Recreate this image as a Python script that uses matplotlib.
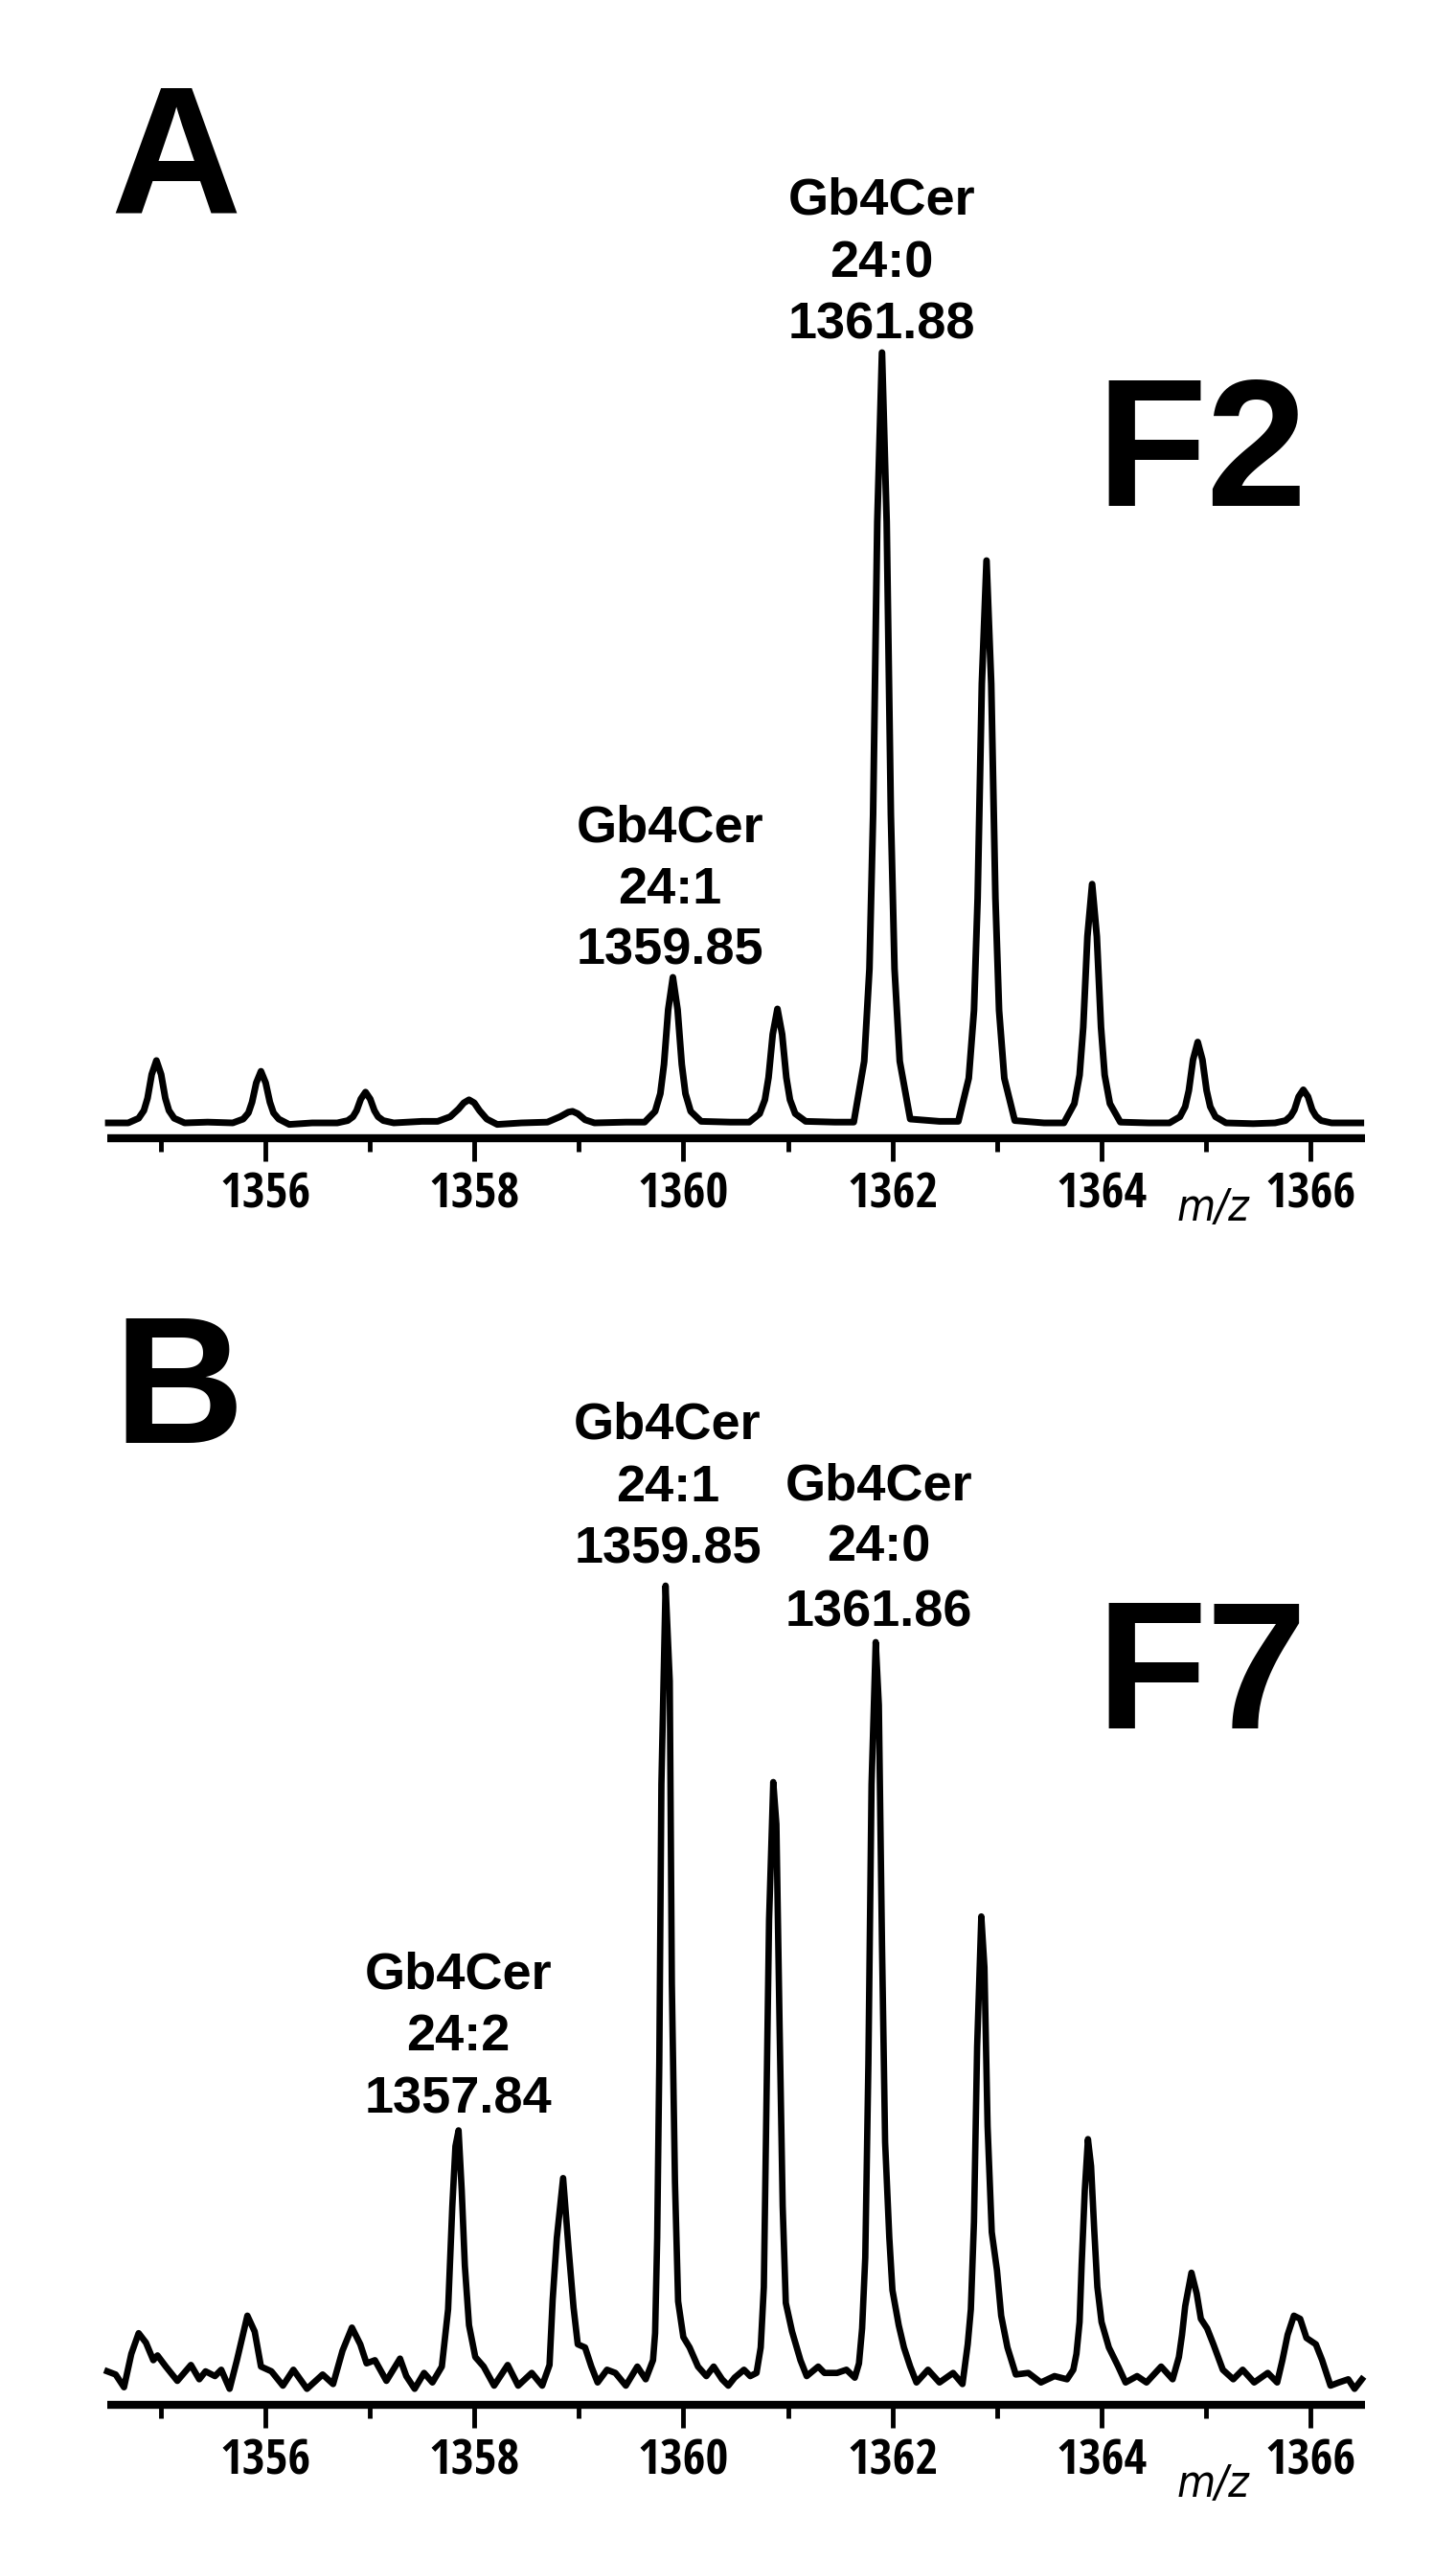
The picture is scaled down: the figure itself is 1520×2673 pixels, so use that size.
import matplotlib
matplotlib.use("Agg")
import matplotlib.pyplot as plt
from matplotlib import font_manager as fm
from matplotlib.ticker import FixedLocator

# ---------------- data ----------------
# Panel A (F2) trace: m/z and relative intensity
mz_a = [1354.50, 1354.69, 1354.79, 1354.84, 1354.875, 1354.915, 1354.96, 1355.005, 1355.045, 1355.08, 1355.13, 1355.23,
        1355.45,
        1355.69, 1355.79, 1355.84, 1355.875, 1355.915, 1355.96, 1356.005, 1356.045, 1356.08, 1356.13, 1356.23,
        1356.45,
        1356.69, 1356.79, 1356.84, 1356.875, 1356.915, 1356.96, 1357.005, 1357.045, 1357.08, 1357.13, 1357.23,
        1357.50,
        1357.65, 1357.77, 1357.85, 1357.90, 1357.95, 1358.00, 1358.05, 1358.12, 1358.22,
        1358.45,
        1358.70, 1358.82, 1358.90, 1358.94, 1358.99, 1359.06, 1359.15,
        1359.45,
        1359.63, 1359.73, 1359.78, 1359.815, 1359.855, 1359.90, 1359.945, 1359.985, 1360.02, 1360.07, 1360.17,
        1360.45,
        1360.63, 1360.73, 1360.78, 1360.815, 1360.855, 1360.90, 1360.945, 1360.985, 1361.02, 1361.07, 1361.17,
        1361.45,
        1361.63, 1361.73, 1361.78, 1361.815, 1361.855, 1361.90, 1361.945, 1361.985, 1362.02, 1362.07, 1362.17,
        1362.45,
        1362.63, 1362.73, 1362.78, 1362.815, 1362.855, 1362.90, 1362.945, 1362.985, 1363.02, 1363.07, 1363.17,
        1363.45,
        1363.64, 1363.74, 1363.79, 1363.825, 1363.865, 1363.91, 1363.955, 1363.995, 1364.03, 1364.08, 1364.18,
        1364.45,
        1364.65, 1364.75, 1364.80, 1364.835, 1364.875, 1364.92, 1364.965, 1365.005, 1365.04, 1365.09, 1365.19,
        1365.45,
        1365.66, 1365.76, 1365.81, 1365.845, 1365.885, 1365.93, 1365.975, 1366.015, 1366.05, 1366.10, 1366.20,
        1366.48]
int_a = [0.0, 0.0, 0.6, 1.6, 3.2, 6.3, 8.1, 6.3, 3.2, 1.6, 0.6, 0.0,
         0.1,
         0.0, 0.5, 1.3, 2.7, 5.2, 6.7, 5.2, 2.7, 1.3, 0.5, -0.2,
         0.0,
         0.0, 0.3, 0.8, 1.6, 3.1, 4.0, 3.1, 1.6, 0.8, 0.3, 0.0,
         0.2,
         0.2, 0.8, 1.8, 2.6, 3.0, 2.6, 1.6, 0.5, -0.2,
         0.0,
         0.1, 0.8, 1.4, 1.5, 1.2, 0.4, 0.0,
         0.1,
         0.1, 1.5, 3.8, 7.6, 14.7, 18.9, 14.7, 7.6, 3.8, 1.5, 0.2,
         0.1,
         0.1, 1.2, 3.0, 5.9, 11.5, 14.8, 11.5, 5.9, 3.0, 1.2, 0.2,
         0.1,
         0.1, 8.0, 20.0, 40.0, 78.0, 100.0, 78.0, 40.0, 20.0, 8.0, 0.5,
         0.2,
         0.2, 5.8, 14.6, 29.2, 57.0, 73.0, 57.0, 29.2, 14.6, 5.8, 0.3,
         0.0,
         0.0, 2.5, 6.2, 12.4, 24.2, 31.0, 24.2, 12.4, 6.2, 2.5, 0.1,
         0.0,
         0.0, 0.8, 2.1, 4.2, 8.2, 10.5, 8.2, 4.2, 2.1, 0.8, 0.0,
         -0.1,
         0.0, 0.3, 0.9, 1.7, 3.4, 4.3, 3.4, 1.7, 0.9, 0.3, 0.0,
         0.0]

# Panel B (F7) trace
mz_b = [1354.49, 1354.57, 1354.65, 1354.72, 1354.79, 1354.86, 1354.93, 1354.97, 1355.05, 1355.16, 1355.29, 1355.37,
        1355.43, 1355.52, 1355.58, 1355.66, 1355.73, 1355.83, 1355.90, 1355.96, 1356.06, 1356.17, 1356.27, 1356.40,
        1356.55, 1356.65, 1356.74, 1356.83, 1356.91, 1356.97, 1357.05, 1357.16, 1357.29, 1357.35, 1357.43, 1357.52,
        1357.60, 1357.69, 1357.75, 1357.79, 1357.82, 1357.85, 1357.88, 1357.91, 1357.95, 1358.01, 1358.09, 1358.19,
        1358.32, 1358.42, 1358.55, 1358.65, 1358.72, 1358.75, 1358.79, 1358.85, 1358.90, 1358.95, 1358.99, 1359.06,
        1359.12, 1359.18, 1359.27, 1359.35, 1359.45, 1359.56, 1359.64, 1359.71, 1359.73, 1359.75, 1359.77, 1359.79,
        1359.83, 1359.87, 1359.89, 1359.92, 1359.95, 1360.00, 1360.06, 1360.14, 1360.22, 1360.29, 1360.37, 1360.43,
        1360.49, 1360.58, 1360.64, 1360.70, 1360.74, 1360.77, 1360.79, 1360.82, 1360.86, 1360.89, 1360.92, 1360.95,
        1360.98, 1361.04, 1361.12, 1361.18, 1361.29, 1361.35, 1361.47, 1361.56, 1361.64, 1361.68, 1361.71, 1361.74,
        1361.77, 1361.80, 1361.84, 1361.87, 1361.90, 1361.93, 1361.97, 1362.00, 1362.06, 1362.11, 1362.17, 1362.23,
        1362.34, 1362.45, 1362.58, 1362.67, 1362.72, 1362.75, 1362.78, 1362.81, 1362.85, 1362.88, 1362.91, 1362.95,
        1363.00, 1363.04, 1363.10, 1363.18, 1363.30, 1363.42, 1363.55, 1363.67, 1363.73, 1363.76, 1363.79, 1363.81,
        1363.84, 1363.87, 1363.90, 1363.93, 1363.96, 1364.00, 1364.07, 1364.16, 1364.23, 1364.34, 1364.43, 1364.57,
        1364.68, 1364.74, 1364.77, 1364.80, 1364.86, 1364.91, 1364.95, 1365.01, 1365.07, 1365.16, 1365.26, 1365.35,
        1365.46, 1365.59, 1365.68, 1365.73, 1365.78, 1365.84, 1365.90, 1365.96, 1366.05, 1366.11, 1366.19, 1366.27,
        1366.36, 1366.42, 1366.49]
int_b = [1.2, 0.8, -0.8, 3.4, 6.0, 4.8, 2.6, 3.2, 1.8, 0.0, 2.0, 0.2,
         1.2, 0.6, 1.4, -1.0, 2.6, 8.2, 6.2, 1.8, 1.2, -0.6, 1.4, -1.0,
         0.8, -0.4, 3.8, 6.7, 4.6, 2.2, 2.6, 0.0, 2.8, 0.6, -1.0, 1.0,
         -0.2, 1.8, 9.0, 21.9, 29.5, 31.5, 24.0, 14.5, 7.0, 3.0, 1.8, -0.6,
         2.0, -0.6, 1.0, -0.6, 2.0, 10.2, 18.0, 25.5, 17.0, 9.2, 4.6, 4.2,
         1.8, -0.2, 1.4, 1.0, -0.6, 1.8, 0.2, 2.6, 6.0, 18.0, 40.0, 75.0,
         100.0, 88.0, 50.0, 25.0, 10.0, 5.5, 4.2, 1.8, 0.6, 1.8, 0.2, -0.6,
         0.4, 1.4, 0.6, 1.0, 4.2, 11.8, 30.0, 58.0, 75.3, 70.0, 45.0, 22.0,
         9.8, 6.2, 2.6, 0.6, 1.8, 1.0, 1.0, 1.4, 0.4, 2.2, 6.6, 15.5,
         40.0, 75.0, 92.9, 85.0, 55.0, 30.0, 18.0, 11.4, 7.0, 4.2, 1.8, -0.2,
         1.4, -0.2, 1.0, -0.4, 4.6, 9.0, 20.0, 42.0, 58.4, 52.0, 32.0, 18.7,
         13.9, 8.2, 4.2, 0.8, 1.0, -0.2, 0.6, 0.2, 1.4, 3.4, 7.4, 14.7,
         24.0, 30.4, 27.0, 19.0, 11.8, 7.4, 4.2, 1.8, -0.2, 0.6, -0.2, 1.8,
         0.2, 3.0, 5.8, 9.4, 13.6, 11.0, 7.8, 6.6, 4.6, 1.4, 0.2, 1.4,
         -0.2, 1.0, -0.2, 2.6, 5.8, 8.2, 7.8, 5.4, 4.6, 2.6, -0.6, -0.2,
         0.2, -1.0, 0.2]

major_ticks = [1356, 1358, 1360, 1362, 1364, 1366]
minor_ticks = [1355, 1357, 1359, 1361, 1363, 1365]

# annotations: (x in m/z, lines)
ann_a = [(1359.87, ["Gb4Cer", "24:1", "1359.85"]),
         (1361.90, ["Gb4Cer", "24:0", "1361.88"])]
ann_b = [(1357.85, ["Gb4Cer", "24:2", "1357.84"]),
         (1359.85, ["Gb4Cer", "24:1", "1359.85"]),
         (1361.87, ["Gb4Cer", "24:0", "1361.86"])]

# ---------------- fonts ----------------
def pick_narrow(bold=True, italic=False):
    want_w = 700 if bold else 400
    cands = []
    for f in fm.fontManager.ttflist:
        fn = f.fname.lower()
        nm = f.name.lower()
        is_narrow = ("narrow" in nm or "narrow" in fn or "condensed" in fn or "condensed" in nm
                     or str(f.stretch).lower() in ("condensed", "semi-condensed"))
        if not is_narrow or "semicondensed" in fn or "extracondensed" in fn:
            continue
        w = f.weight if isinstance(f.weight, int) else (700 if "bold" in str(f.weight) else 400)
        if abs(w - want_w) > 50:
            continue
        if (f.style != "normal") != italic:
            continue
        rank = 0 if "liberation" in nm else (1 if "noto sans" in nm else (2 if "open" in nm else 3))
        cands.append((rank, f.fname))
    if cands:
        cands.sort()
        return cands[0][1]
    return None


narrow_bold = pick_narrow(True, False)
narrow_ital = pick_narrow(False, True)


def tick_font(size):
    if narrow_bold:
        return fm.FontProperties(fname=narrow_bold, size=size)
    return fm.FontProperties(family="Liberation Sans", weight="bold", size=size)


def mz_font(size):
    if narrow_ital:
        return fm.FontProperties(fname=narrow_ital, size=size)
    return fm.FontProperties(family="Liberation Sans", style="italic", size=size)


BOLD = "Liberation Sans"

W, H = 1520, 2673
DPI = 100
fig = plt.figure(figsize=(W / DPI, H / DPI), dpi=DPI)
fig.patch.set_facecolor("white")


def fx(x):
    return x / W


def fy(y):
    return 1 - y / H


XL, XR = 112, 1425
XMIN, XMAX = 1354.49, 1366.52
TICK_SIZE = 37 if narrow_bold else 33


def make_axes(y_axis, y_top, ylo, yhi):
    ax = fig.add_axes([fx(XL), fy(y_axis), (XR - XL) / W, (y_axis - y_top) / H])
    ax.set_xlim(XMIN, XMAX)
    ax.set_ylim(ylo, yhi)
    for s in ["top", "right", "left"]:
        ax.spines[s].set_visible(False)
    ax.spines["bottom"].set_linewidth(6)
    ax.spines["bottom"].set_capstyle("butt")
    ax.set_yticks([])
    ax.xaxis.set_major_locator(FixedLocator(major_ticks))
    ax.xaxis.set_minor_locator(FixedLocator(minor_ticks))
    ax.tick_params(axis="x", which="major", length=17, width=3.5, direction="out", pad=8, color="black")
    ax.tick_params(axis="x", which="minor", length=10, width=3.5, direction="out")
    ax.set_xticklabels([str(t) for t in major_ticks], fontproperties=tick_font(TICK_SIZE))
    ax.patch.set_alpha(0)
    return ax


# Panel A: axis line at y=1188 px, baseline at 1172, top peak at ~370
sa = 8.04
axA = make_axes(1188, 300, (1172 - 1188) / sa, (1172 - 300) / sa)
axA.plot(mz_a, int_a, color="black", lw=5.0, solid_joinstyle="round", clip_on=False)

# Panel B: axis line at 2510, baseline 2485
sb = 8.3
axB = make_axes(2510, 1500, (2485 - 2510) / sb, (2485 - 1500) / sb)
axB.plot(mz_b, int_b, color="black", lw=4.8, solid_joinstyle="round", clip_on=False)


def mz_to_px(m):
    return XL + (m - XMIN) / (XMAX - XMIN) * (XR - XL)


def label(xm, lines, baselines):
    xp = mz_to_px(xm)
    for t, yb in zip(lines, baselines):
        fig.text(fx(xp), fy(yb), t, ha="center", va="baseline", fontsize=39,
                 fontfamily=BOLD, fontweight="bold")


label(ann_a[0][0], ann_a[0][1], [879, 943, 1007])
label(ann_a[1][0], ann_a[1][1], [224, 289, 354])
label(ann_b[0][0], ann_b[0][1], [2076, 2140, 2205])
label(ann_b[1][0], ann_b[1][1], [1502, 1567, 1632])
label(ann_b[2][0], ann_b[2][1], [1565, 1630, 1697])

# big panel letters
big = dict(fontsize=136, fontfamily=BOLD, fontweight="bold", va="baseline", ha="left")
fig.text(fx(115), fy(222), "A", **big)
fig.text(fx(1144), fy(528), "F2", **big)
fig.text(fx(118), fy(1506), "B", **big)
fig.text(fx(1144), fy(1804), "F7", **big)

# m/z labels
fig.text(fx(1266), fy(1274), "m/z", fontproperties=mz_font(33), ha="center", va="baseline")
fig.text(fx(1266), fy(2606), "m/z", fontproperties=mz_font(33), ha="center", va="baseline")

fig.savefig("out.png", dpi=DPI, facecolor="white")
